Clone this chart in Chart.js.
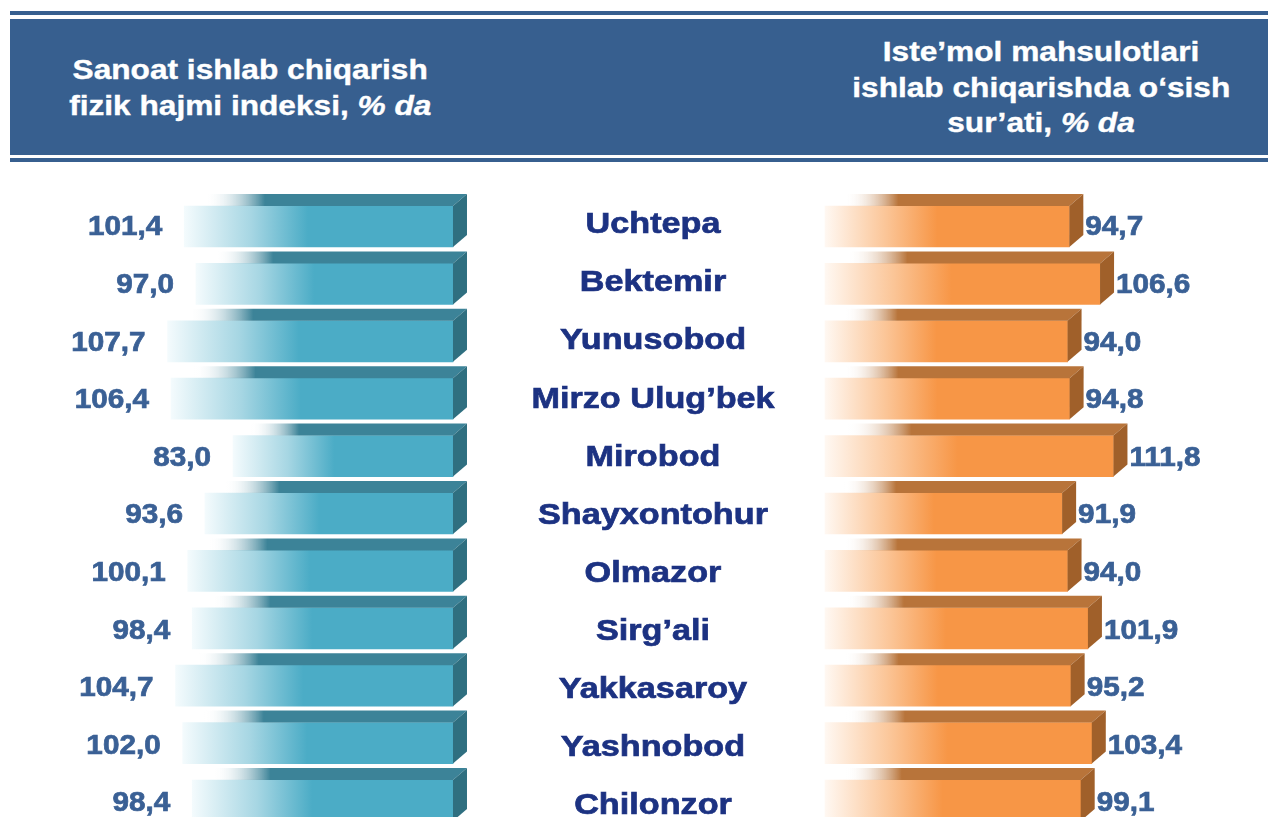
<!DOCTYPE html>
<html>
<head>
<meta charset="utf-8">
<script src="https://cdn.jsdelivr.net/npm/chart.js@4.4.0/dist/chart.umd.min.js"></script>
<style>
  body { margin: 0; width: 1268px; height: 817px; overflow: hidden; background: #fff; font-family: "Liberation Sans", Arial, sans-serif; }
  .line { position: absolute; left: 10px; width: 1258px; background: #375f8f; }
  .head { position: absolute; color: #fff; font-weight: bold; font-size: 28px; text-align: center; -webkit-text-stroke: 0.4px #fff; }
  .head span { display: inline-block; transform: scaleX(1.13); transform-origin: center; white-space: nowrap; }
  #chart { position: absolute; left: 0; top: 0; }
</style>
</head>
<body>
<div class="line" style="top:11px;height:4px"></div>
<div class="line" style="top:19px;height:136px"></div>
<div class="line" style="top:158px;height:4px"></div>
<div class="head" style="left:0;width:500px;top:52px;line-height:36px">
  <span>Sanoat ishlab chiqarish</span><br><span>fizik hajmi indeksi, <i>% da</i></span>
</div>
<div class="head" style="left:791px;width:500px;top:34px;line-height:35.5px">
  <span>Iste’mol mahsulotlari</span><br><span>ishlab chiqarishda o‘sish</span><br><span>sur’ati, <i>% da</i></span>
</div>
<canvas id="chart" width="1268" height="850"></canvas>
<script>
const categories = ['Uchtepa', 'Bektemir', 'Yunusobod', 'Mirzo Ulug’bek', 'Mirobod', 'Shayxontohur',
                    'Olmazor', 'Sirg’ali', 'Yakkasaroy', 'Yashnobod', 'Chilonzor'];
const industryIndex = [101.4, 97.0, 107.7, 106.4, 83.0, 93.6, 100.1, 98.4, 104.7, 102.0, 98.4];
const consumerGrowth = [94.7, 106.6, 94.0, 94.8, 111.8, 91.9, 94.0, 101.9, 95.2, 103.4, 99.1];

const teal = { front: '#4bacc6', top: '#3c8398', side: '#2f6f80', light: '#f4fbfd', mid: '#a6d6e3' };
const orange = { front: '#f79646', top: '#b8743a', side: '#a0602a', light: '#fff8f2', mid: '#fbc597' };

// gradient of the front face, white on the left side of each bar
function frontFill(col, axisId) {
    return function (c) {
        if (c.type !== 'data') return col.front;
        const sc = c.chart.scales[axisId];
        if (!sc) return col.front;
        const a = sc.getPixelForValue(0), b = sc.getPixelForValue(c.raw);
        if (!isFinite(a) || !isFinite(b) || a === b) return col.front;
        const l = Math.min(a, b), r = Math.max(a, b);
        const g = c.chart.ctx.createLinearGradient(l, 0, r, 0);
        g.addColorStop(0, col.light);
        g.addColorStop(0.25, col.mid);
        g.addColorStop(0.46, col.front);
        g.addColorStop(1, col.front);
        return g;
    };
}

const DX = 14, DY = 12;

// top and side faces, then the texts
const bars3d = {
    id: 'bars3d',
    afterDatasetsDraw(chart) {
        const ctx = chart.ctx;
        chart.data.datasets.forEach((ds, i) => {
            const col = i === 0 ? teal : orange;
            chart.getDatasetMeta(i).data.forEach(el => {
                const p = el.getProps(['x', 'y', 'base', 'height'], true);
                const l = Math.min(p.x, p.base), r = Math.max(p.x, p.base);
                const t = p.y - p.height / 2, b = p.y + p.height / 2;
                if (!isFinite(l) || !isFinite(r) || l === r) return;
                const g = ctx.createLinearGradient(l, 0, r, 0);
                g.addColorStop(0, 'rgba(255,255,255,0)');
                g.addColorStop(0.08, 'rgba(255,255,255,0)');
                g.addColorStop(0.3, col.top);
                g.addColorStop(1, col.top);
                ctx.save();
                ctx.fillStyle = g;
                ctx.beginPath();
                ctx.moveTo(l, t);
                ctx.lineTo(r, t);
                ctx.lineTo(r + DX, t - DY);
                ctx.lineTo(l + DX, t - DY);
                ctx.closePath();
                ctx.fill();
                ctx.fillStyle = col.side;
                ctx.beginPath();
                ctx.moveTo(r, t);
                ctx.lineTo(r + DX, t - DY);
                ctx.lineTo(r + DX, b - DY);
                ctx.lineTo(r, b);
                ctx.closePath();
                ctx.fill();
                ctx.restore();
            });
        });
    },
    afterDraw(chart) {
        const ctx = chart.ctx;
        const ys = chart.scales.y;
        const put = (txt, x, y, align, font, color, sx) => {
            ctx.save();
            ctx.translate(x, y);
            ctx.scale(sx, 1);
            ctx.font = font;
            ctx.fillStyle = color;
            ctx.strokeStyle = color;
            ctx.lineWidth = 0.7;
            ctx.textAlign = align;
            ctx.textBaseline = 'middle';
            ctx.fillText(txt, 0, 0);
            ctx.strokeText(txt, 0, 0);
            ctx.restore();
        };
        categories.forEach((c, i) => {
            put(c, 653, ys.getPixelForValue(i) - 1.5 + 0.7 * i, 'center', 'bold 30px "Liberation Sans", Arial', '#1c3282', 1.14);
        });
        const fmt = v => v.toFixed(1).replace('.', ',');
        chart.getDatasetMeta(0).data.forEach((el, i) => {
            const p = el.getProps(['x', 'y', 'base'], true);
            put(fmt(industryIndex[i]), Math.min(p.x, p.base) - 22, p.y + 1.5 + 0.2 * i, 'right', 'bold 27px "Liberation Sans", Arial', '#3a6095', 1.1);
        });
        chart.getDatasetMeta(1).data.forEach((el, i) => {
            const p = el.getProps(['x', 'y', 'base'], true);
            put(fmt(consumerGrowth[i]), Math.max(p.x, p.base) + DX + 2, p.y + 1.5 + 0.2 * i, 'left', 'bold 27px "Liberation Sans", Arial', '#3a6095', 1.1);
        });
    }
};

new Chart(document.getElementById('chart'), {
    type: 'bar',
    data: {
        labels: categories,
        datasets: [{
            data: industryIndex,
            xAxisID: 'xL',
            grouped: false,
            barThickness: 41,
            backgroundColor: frontFill(teal, 'xL')
        }, {
            data: consumerGrowth,
            xAxisID: 'xR',
            grouped: false,
            barThickness: 41,
            backgroundColor: frontFill(orange, 'xR')
        }]
    },
    options: {
        indexAxis: 'y',
        responsive: false,
        animation: false,
        devicePixelRatio: 1,
        layout: { padding: { top: 197.8, bottom: 20.8, left: 0, right: 0 } },
        scales: {
            y: { type: 'category', display: false },
            xL: { type: 'linear', axis: 'x', display: false, reverse: true, bounds: 'data', min: -307.55, max: 170.94 },
            xR: { type: 'linear', axis: 'x', display: false, bounds: 'data', min: -319.77, max: 171.7 }
        },
        plugins: {
            legend: { display: false },
            tooltip: { enabled: false }
        }
    },
    plugins: [bars3d]
});
</script>
</body>
</html>
